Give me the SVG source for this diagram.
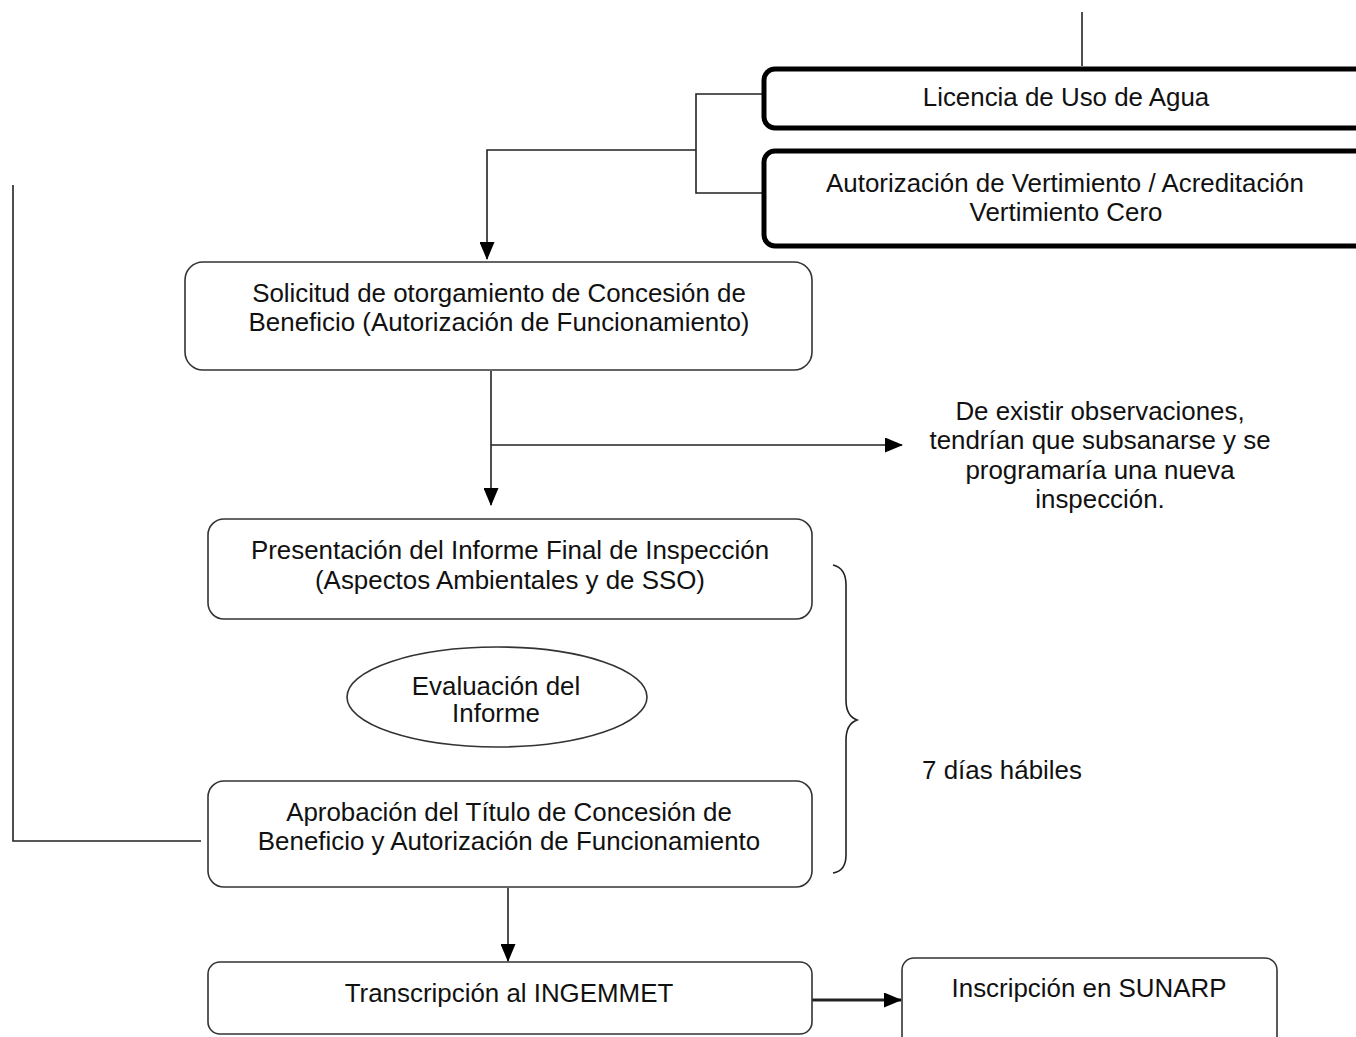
<svg xmlns="http://www.w3.org/2000/svg" width="1356" height="1037" viewBox="0 0 1356 1037">
<style>
text{font-family:"Liberation Sans",Arial,sans-serif;font-size:25.9px;fill:#111;text-anchor:middle}
.box{fill:#fff;stroke:#333;stroke-width:1.6}
.thick{fill:#fff;stroke:#000;stroke-width:5}
.ln{fill:none;stroke:#222;stroke-width:1.6}
</style>
<defs>
<marker id="ah" markerWidth="18" markerHeight="15" refX="17" refY="7.5" orient="auto" markerUnits="userSpaceOnUse">
<path d="M0,0 L18,7.5 L0,15 Z" fill="#000"/>
</marker>
</defs>
<rect width="1356" height="1037" fill="#fff"/>
<g id="connectors">
<path class="ln" d="M1082,12 V66"/>
<path class="ln" d="M763,94 H696 V193 H763"/>
<path class="ln" d="M696,150 H487 V259" marker-end="url(#ah)"/>
<path class="ln" d="M491,371 V505" marker-end="url(#ah)"/>
<path class="ln" d="M491,445 H902" marker-end="url(#ah)"/>
<path class="ln" d="M13,185 V841 H201"/>
<path class="ln" d="M508,888 V961" marker-end="url(#ah)"/>
<path fill="none" stroke="#222" stroke-width="3" d="M812,1000 H901" marker-end="url(#ah)"/>
<path class="ln" d="M833,565 Q846,568 846,585 V700 Q846,716 857,720 Q846,724 846,740 V855 Q846,871 833,873"/>
</g>
<g id="licencia">
<rect class="thick" x="764" y="69" width="620" height="59" rx="11"/>
<text x="1066" y="106">Licencia de Uso de Agua</text>
</g>
<g id="autorizacion">
<rect class="thick" x="764" y="151" width="620" height="95" rx="11"/>
<text x="1065" y="192">Autorización de Vertimiento / Acreditación</text>
<text x="1066" y="221">Vertimiento Cero</text>
</g>
<g id="solicitud">
<rect class="box" x="185" y="262" width="627" height="108" rx="18"/>
<text x="499" y="302">Solicitud de otorgamiento de Concesión de</text>
<text x="499" y="331">Beneficio (Autorización de Funcionamiento)</text>
</g>
<g id="nota">
<text x="1100" y="420">De existir observaciones,</text>
<text x="1100" y="449">tendrían que subsanarse y se</text>
<text x="1100" y="479">programaría una nueva</text>
<text x="1100" y="508">inspección.</text>
</g>
<g id="presentacion">
<rect class="box" x="208" y="519" width="604" height="100" rx="16"/>
<text x="510" y="559">Presentación del Informe Final de Inspección</text>
<text x="510" y="589">(Aspectos Ambientales y de SSO)</text>
</g>
<g id="evaluacion">
<ellipse class="box" cx="497" cy="697" rx="150" ry="50"/>
<text x="496" y="695">Evaluación del</text>
<text x="496" y="722">Informe</text>
</g>
<g id="aprobacion">
<rect class="box" x="208" y="781" width="604" height="106" rx="16"/>
<text x="509" y="821">Aprobación del Título de Concesión de</text>
<text x="509" y="850">Beneficio y Autorización de Funcionamiento</text>
</g>
<g id="plazo">
<text x="1002" y="779">7 días hábiles</text>
</g>
<g id="transcripcion">
<rect class="box" x="208" y="962" width="604" height="72" rx="12"/>
<text x="509" y="1002">Transcripción al INGEMMET</text>
</g>
<g id="inscripcion">
<rect class="box" x="902" y="958" width="375" height="100" rx="12"/>
<text x="1089" y="997">Inscripción en SUNARP</text>
</g>
</svg>
